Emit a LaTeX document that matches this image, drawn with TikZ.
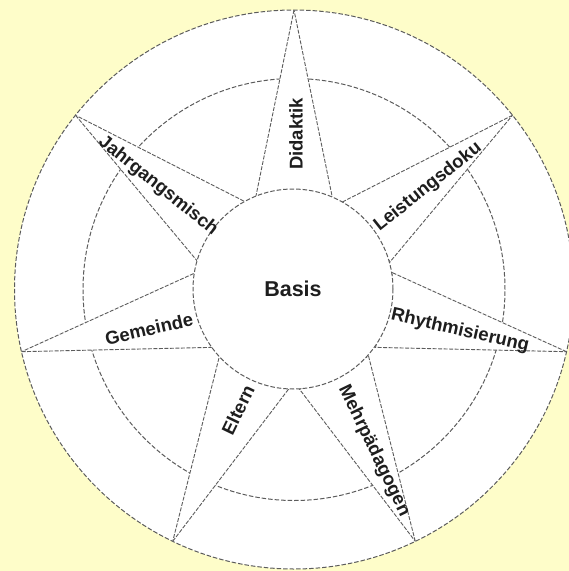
\documentclass[tikz,border=0pt]{standalone}
\usepackage{fontspec}
\setmainfont{Liberation Sans}
\definecolor{bgyellow}{HTML}{FEFDC9}
\definecolor{linegray}{HTML}{5C5C5C}
\definecolor{textgray}{HTML}{1E1E1E}
\begin{document}
\begin{tikzpicture}[x=1pt,y=1pt,
  ring/.style={draw=linegray, line width=1pt, dash pattern=on 4.5pt off 2pt},
  spikeedge/.style={fill=white, draw=linegray, line width=0.9pt, dash pattern=on 4pt off 1.5pt},
  lbl/.style={font=\bfseries\fontsize{18.5}{20}\selectfont, text=textgray, inner sep=0pt}]
\fill[bgyellow] (0,0) rectangle (569,-571);
\useasboundingbox (0,0) rectangle (569,-571);
\begin{scope}
\clip (0,0) rectangle (569,-571);
\begin{scope}[shift={(294,-289.5)}]
  \coordinate (c) at (0,0);
  % outer circle
  \node[circle, minimum size=559pt, inner sep=0pt, fill=white, ring] (outer) at (c) {};
  % middle circle
  \node[circle, minimum size=422pt, inner sep=0pt, ring] (middle) at (c) {};
  % star spikes
  \foreach \k in {0,...,6}{
    \pgfmathsetmacro\a{90-360*\k/7}
    \coordinate (tip\k) at (\a:279.5);
    \coordinate (bl\k) at (\a+22.5:100);
    \coordinate (br\k) at (\a-22.5:100);
    \filldraw[spikeedge] (tip\k) -- (bl\k) -- (br\k) -- cycle;
  }
  % inner circle
  \node[circle, minimum size=200pt, inner sep=0pt, fill=white, ring,
        font=\bfseries\fontsize{21.5}{24}\selectfont, text=textgray] (basis) at (-1,0.5) {Basis};
\end{scope}
\end{scope}
% labels
\node[lbl, rotate=90] (didaktik) at (296,-134) {Didaktik};
\node[lbl, rotate=38.57] (leistung) at (428,-187) {Leistungsdoku};
\node[lbl, rotate=-12.86] (rhythm) at (460,-331) {Rhythmisierung};
\node[lbl, rotate=-64.29] (mehr) at (374,-451) {Mehrpädagogen};
\node[lbl, rotate=64.29] (eltern) at (238,-410) {Eltern};
\node[lbl, rotate=12.86] (gemeinde) at (149,-329) {Gemeinde};
\node[lbl, rotate=-38.57] (jahrgang) at (158,-186) {Jahrgangsmisch};
\end{tikzpicture}
\end{document}
